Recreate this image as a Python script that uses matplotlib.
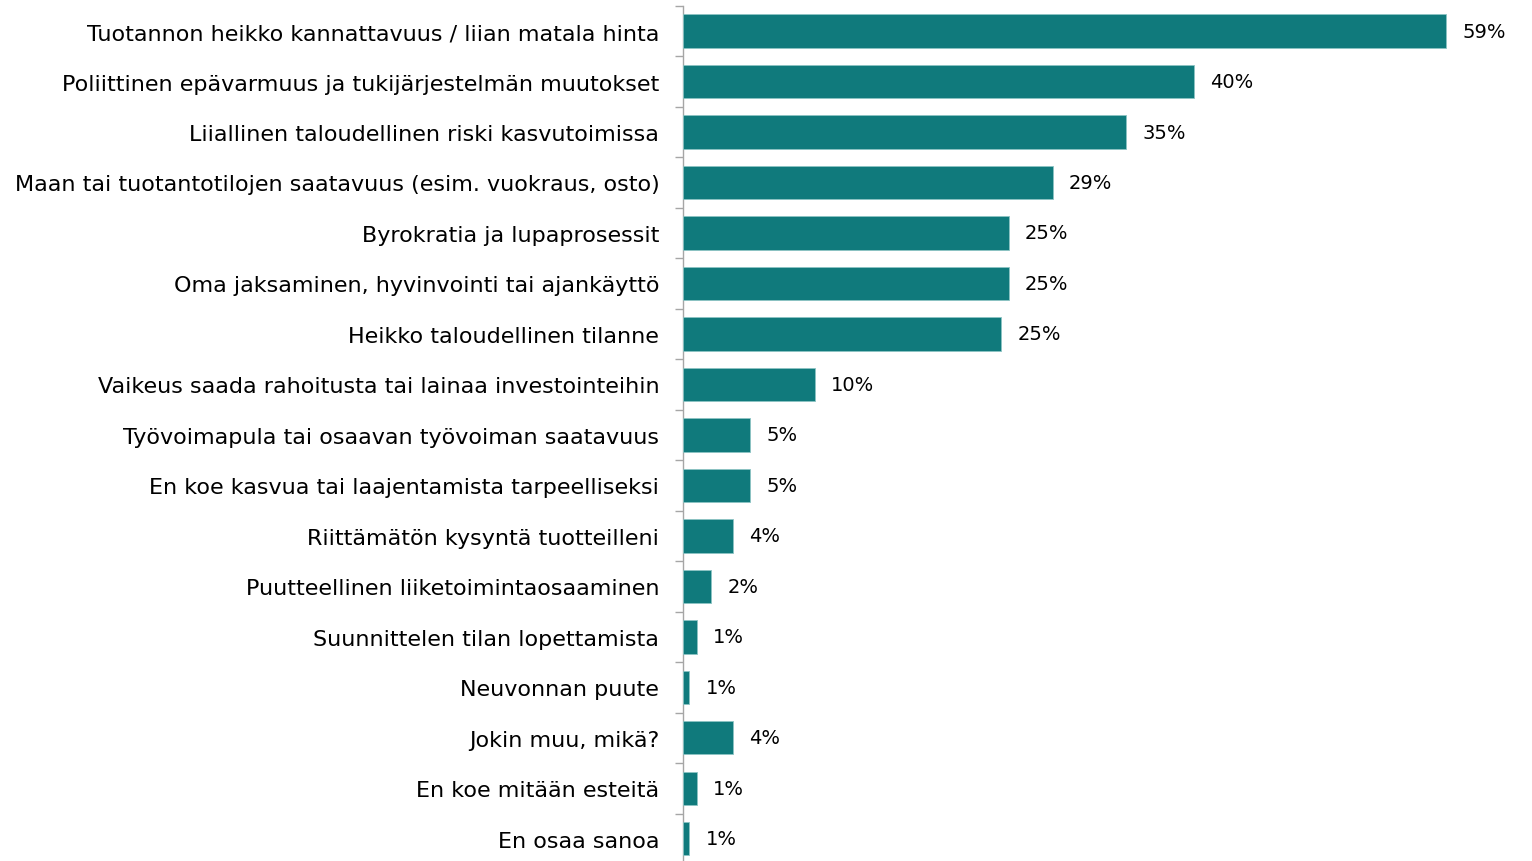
import matplotlib
matplotlib.use("Agg")
import matplotlib.pyplot as plt
from matplotlib.ticker import FixedLocator, NullFormatter

plt.rcParams["font.family"] = ["DejaVu Sans"]

CATEGORIES = [
    "Tuotannon heikko kannattavuus / liian matala hinta",
    "Poliittinen epävarmuus ja tukijärjestelmän muutokset",
    "Liiallinen taloudellinen riski kasvutoimissa",
    "Maan tai tuotantotilojen saatavuus (esim. vuokraus, osto)",
    "Byrokratia ja lupaprosessit",
    "Oma jaksaminen, hyvinvointi tai ajankäyttö",
    "Heikko taloudellinen tilanne",
    "Vaikeus saada rahoitusta tai lainaa investointeihin",
    "Työvoimapula tai osaavan työvoiman saatavuus",
    "En koe kasvua tai laajentamista tarpeelliseksi",
    "Riittämätön kysyntä tuotteilleni",
    "Puutteellinen liiketoimintaosaaminen",
    "Suunnittelen tilan lopettamista",
    "Neuvonnan puute",
    "Jokin muu, mikä?",
    "En koe mitään esteitä",
    "En osaa sanoa",
]
VALUES = [59.0, 39.5, 34.3, 28.6, 25.2, 25.2, 24.6, 10.2, 5.2, 5.2,
          3.9, 2.2, 1.1, 0.5, 3.9, 1.1, 0.5]
VALUE_LABELS = ["59%", "40%", "35%", "29%", "25%", "25%", "25%", "10%", "5%", "5%",
                "4%", "2%", "1%", "1%", "4%", "1%", "1%"]

BAR_COLOR = "#107A7C"
AXIS_COLOR = "#A6A6A6"

fig = plt.figure(figsize=(15.32, 8.62), dpi=100)
ax = fig.add_axes([0.4458, -0.0035, 0.5542, 0.9956])

n = len(CATEGORIES)
ys = list(range(n))
ax.barh(ys, VALUES, height=0.66, color=BAR_COLOR, edgecolor="#8CC4C4",
        linewidth=0.6, zorder=3)

for y, v, lbl in zip(ys, VALUES, VALUE_LABELS):
    ax.text(v + 1.25, y, lbl, va="center", ha="left", fontsize=14, color="black")

ax.set_ylim(n - 0.5, -0.5)
ax.set_xlim(0, 65.66)

ax.set_yticks(ys)
ax.set_yticklabels(CATEGORIES, fontsize=16, color="black")
ax.tick_params(axis="y", which="major", length=0, pad=17)
ax.yaxis.set_minor_locator(FixedLocator([i - 0.5 for i in range(n + 1)]))
ax.yaxis.set_minor_formatter(NullFormatter())
ax.tick_params(axis="y", which="minor", length=6, width=1, color=AXIS_COLOR)

ax.set_xticks([])
for side in ("top", "right", "bottom"):
    ax.spines[side].set_visible(False)
ax.spines["left"].set_color(AXIS_COLOR)
ax.spines["left"].set_linewidth(1)

fig.savefig("out.png", dpi=100, facecolor="white")
